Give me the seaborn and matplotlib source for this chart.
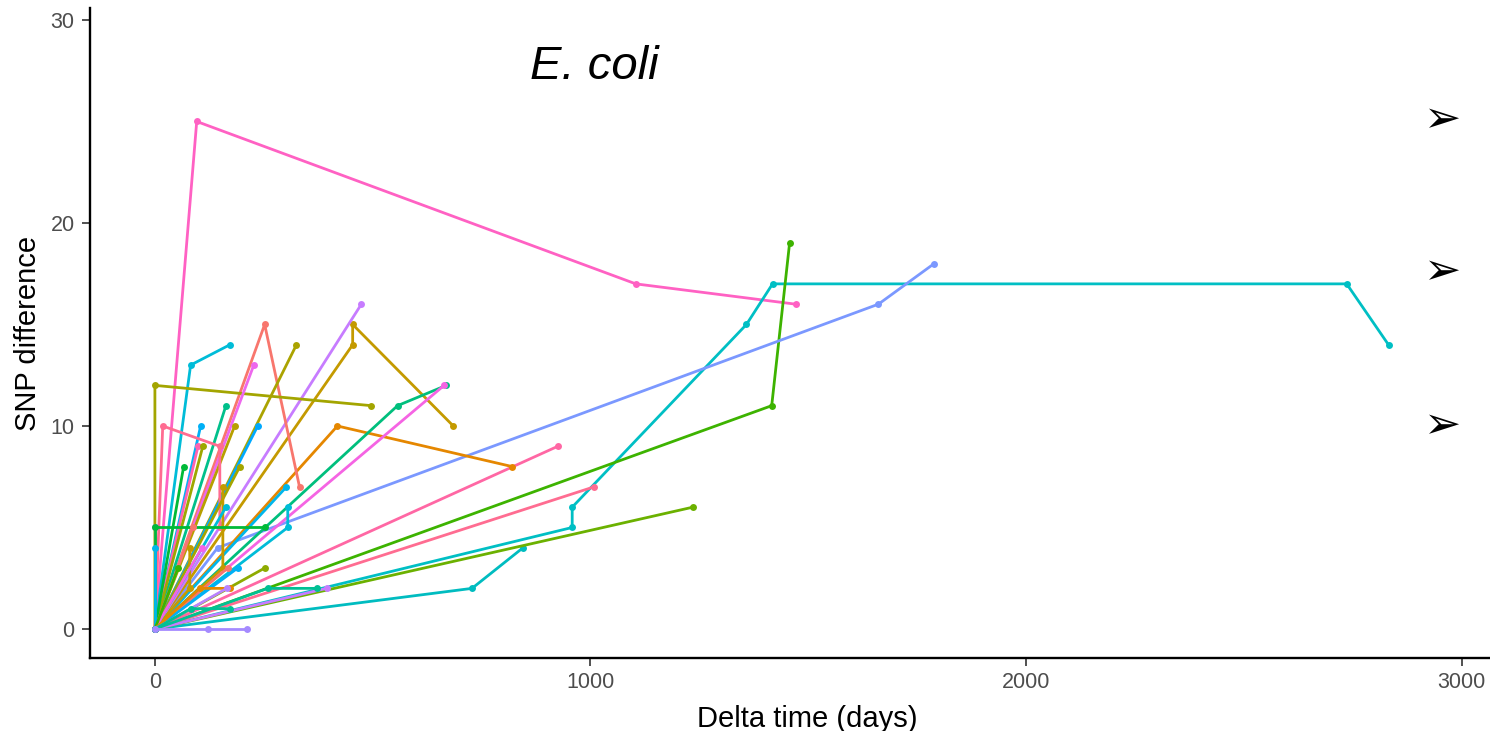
import matplotlib
matplotlib.use("Agg")
import matplotlib.pyplot as plt
import seaborn as sns
import pandas as pd

# Per-patient isolate series: days since first isolate and SNP distance to it
patient = []
delta_days = []
snp_diff = []

series = [
    ("P01", [0, 96, 1104, 1471], [0, 25, 17, 16]),
    ("P02", [0, 958, 958, 1358, 1418, 2736, 2832], [0, 5, 6, 15, 17, 17, 14]),
    ("P03", [0, 1416, 1457], [0, 11, 19]),
    ("P04", [0, 144, 1661, 1789], [0, 4, 16, 18]),
    ("P05", [0, 1008], [0, 7]),
    ("P06", [0, 925], [0, 9]),
    ("P07", [0, 419, 820], [0, 10, 8]),
    ("P08", [0, 454, 454, 685], [0, 14, 15, 10]),
    ("P09", [0, 474], [0, 16]),
    ("P10", [0, 557, 669], [0, 11, 12]),
    ("P11", [0, 664], [0, 12]),
    ("P12", [0, 252, 332], [0, 15, 7]),
    ("P13", [0, 728, 845], [0, 2, 4]),
    ("P14", [0, 1235], [0, 6]),
    ("P15", [0, 82, 172], [0, 13, 14]),
    ("P16", [0, 0, 497], [0, 12, 11]),
    ("P17", [0, 325], [0, 14]),
    ("P18", [0, 227], [0, 13]),
    ("P19", [0, 163], [0, 11]),
    ("P20", [0, 183], [0, 10]),
    ("P21", [0, 105], [0, 10]),
    ("P22", [0, 236], [0, 10]),
    ("P23", [0, 18, 149, 149], [0, 10, 9, 5]),
    ("P24", [0, 99], [0, 9]),
    ("P25", [0, 110], [0, 9]),
    ("P26", [0, 66], [0, 8]),
    ("P27", [0, 195], [0, 8]),
    ("P28", [0, 302], [0, 7]),
    ("P29", [0, 156, 156], [0, 3, 7]),
    ("P30", [0, 80, 80], [0, 2, 4]),
    ("P31", [0, 163], [0, 6]),
    ("P32", [0, 305, 305], [0, 5, 6]),
    ("P33", [0, 0], [0, 5]),
    ("P34", [0, 0, 252], [0, 5, 5]),
    ("P35", [0, 87], [0, 5]),
    ("P36", [0, 0], [0, 4]),
    ("P37", [0, 108], [0, 4]),
    ("P38", [0, 53], [0, 3]),
    ("P39", [0, 167], [0, 3]),
    ("P40", [0, 190], [0, 3]),
    ("P41", [0, 252], [0, 3]),
    ("P42", [0, 103, 172], [0, 2, 2]),
    ("P43", [0, 394], [0, 2]),
    ("P44", [0, 165], [0, 2]),
    ("P45", [0, 259, 373], [0, 2, 2]),
    ("P46", [0, 82, 172], [0, 1, 1]),
    ("P47", [0, 121, 211], [0, 0, 0]),
]
for pid, xs, ys in series:
    patient += [pid] * len(xs)
    delta_days += xs
    snp_diff += ys

line_colors = [
    "#FF61C3", "#00BFC4", "#3DB300", "#7B98FF", "#FF6C91", "#FF67A4",
    "#E58700", "#C49A00", "#C77CFF", "#00BF7D", "#F564E3", "#F8766D",
    "#00BCC0", "#6BB100", "#00BCD8", "#A3A500", "#ABA300", "#ED68ED",
    "#00C08B", "#B79F00", "#00B0F6", "#00A9FF", "#FF6C91", "#FF64B0",
    "#9DA700", "#00BA38", "#A3A500", "#00B6EB", "#C49A00", "#C49A00",
    "#00BCD8", "#00BCD8", "#DB72FB", "#00BA38", "#F8766D", "#00B6EB",
    "#F564E3", "#39B600", "#F8766D", "#00B0F6", "#8EAB00", "#E58700",
    "#C77CFF", "#B983FF", "#00C094", "#00C094", "#A58AFF",
]

ids = [s[0] for s in series]
palette = dict(zip(ids, line_colors))

df = pd.DataFrame({"patient": patient, "days": delta_days, "snp": snp_diff})

sns.set_theme(style="ticks")
plt.rcParams["font.family"] = ["Liberation Sans", "DejaVu Sans"]

fig = plt.figure(figsize=(14.9, 7.31), dpi=100)
ax = fig.add_axes([90 / 1490, 1 - 658 / 731, 1400 / 1490, 650 / 731])

sns.lineplot(
    data=df, x="days", y="snp", hue="patient", palette=palette,
    estimator=None, sort=False, marker="o", markersize=5,
    markeredgewidth=0, linewidth=2.0, legend=False, ax=ax,
)

ax.set_xlim(-149, 3065)
ax.set_ylim(-1.43, 30.59)
ax.set_xticks([0, 1000, 2000, 3000])
ax.set_yticks([0, 10, 20, 30])
ax.tick_params(axis="both", labelsize=15.5, labelcolor="#4D4D4D",
               color="#333333", length=6, width=1.2)
ax.tick_params(axis="x", pad=4)
ax.tick_params(axis="y", pad=5)
for side in ("top", "right"):
    ax.spines[side].set_visible(False)
for side in ("left", "bottom"):
    ax.spines[side].set_linewidth(1.7)
    ax.spines[side].set_color("black")

ax.set_xlabel("Delta time (days)", fontsize=21, color="black")
ax.set_ylabel("SNP difference", fontsize=21, color="black")
ax.xaxis.set_label_coords(0.512, -0.072)
ax.yaxis.set_label_coords(-0.034, 0.5)

ax.text(1008, 27.7, "E. coli", fontsize=34, style="italic",
        ha="center", va="center", color="black")

# arrowheads marking the off-scale cases on the right
for yv in (25.1, 17.6, 10.0):
    ax.text(2955, yv, "\u27a2", fontsize=32, ha="center", va="center",
            family=["DejaVu Sans"], color="black")

fig.savefig("out.png", dpi=100)
